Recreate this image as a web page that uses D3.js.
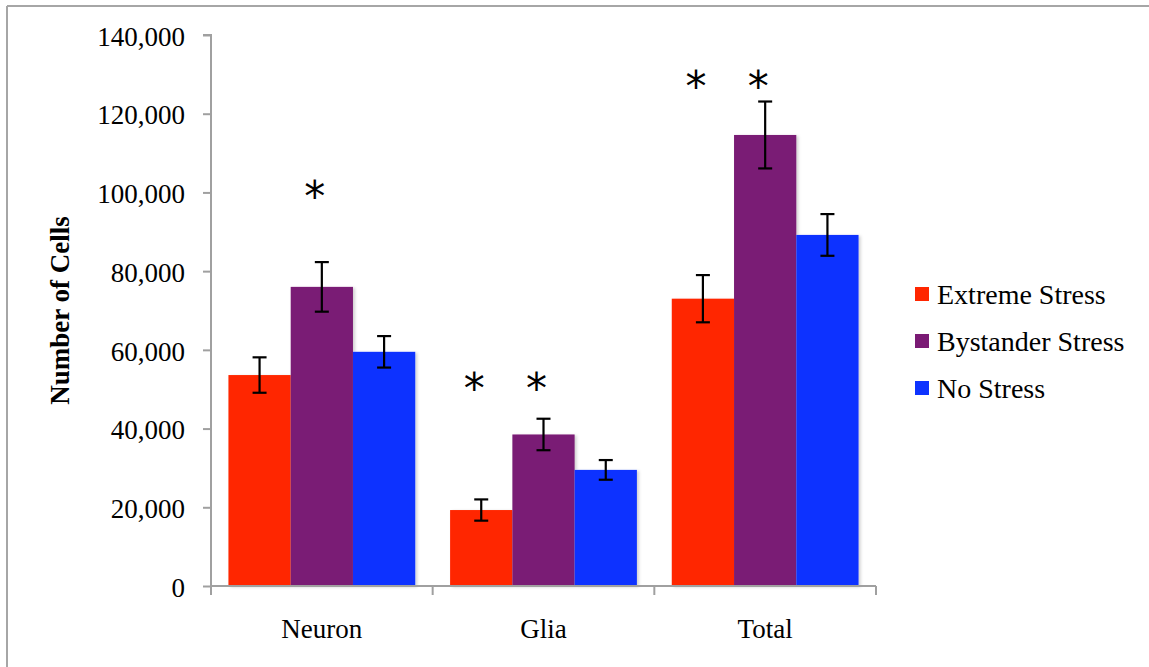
<!DOCTYPE html>
<html>
<head>
<meta charset="utf-8">
<script src="https://cdn.jsdelivr.net/npm/d3@7"></script>
<style>
  html, body { margin: 0; padding: 0; background: #fff; }
  svg { display: block; }
  text { font-family: "Liberation Serif", "DejaVu Serif", serif; fill: #000; }
</style>
</head>
<body>
<svg id="chart" width="1149" height="667"></svg>
<script>
// ---- data ----
const categories = ["Neuron", "Glia", "Total"];
const seriesNames = ["Extreme Stress", "Bystander Stress", "No Stress"];
const seriesColors = ["#FF2600", "#7A1A74", "#0D33FF"];
const extremeValues = [53600, 19300, 73000];
const extremeErrors = [4500, 2700, 6000];
const bystanderValues = [76000, 38500, 114600];
const bystanderErrors = [6300, 4000, 8500];
const noStressValues = [59500, 29500, 89200];
const noStressErrors = [4000, 2500, 5300];
const yTicks = [0, 20000, 40000, 60000, 80000, 100000, 120000, 140000];
// significance markers: [category, series index, y value where the star sits]
const stars = [
  ["Neuron", 1, 100500],
  ["Glia", 0, 51800],
  ["Glia", 1, 51800],
  ["Total", 0, 128600],
  ["Total", 1, 128600]
];

const seriesValues = [extremeValues, bystanderValues, noStressValues];
const seriesErrors = [extremeErrors, bystanderErrors, noStressErrors];

const svg = d3.select("#chart");
const plot = { left: 211, right: 876, top: 35, bottom: 586 };

// frame (top and left edges only visible)
svg.append("line").attr("x1", 7).attr("x2", 1149).attr("y1", 6).attr("y2", 6)
  .attr("stroke", "#a6a6a6").attr("stroke-width", 2);
svg.append("line").attr("x1", 7).attr("x2", 7).attr("y1", 6).attr("y2", 667)
  .attr("stroke", "#a6a6a6").attr("stroke-width", 2);

const y = d3.scaleLinear().domain([0, 140000]).range([plot.bottom, plot.top]);
const x0 = d3.scaleBand().domain(categories).range([plot.left, plot.right]).paddingInner(0).paddingOuter(0);
const x1 = d3.scaleBand().domain(d3.range(seriesNames.length))
  .range([0, x0.bandwidth()]).paddingOuter(0.28).paddingInner(0);

// drop shadow
const defs = svg.append("defs");
const f = defs.append("filter").attr("id", "shadow").attr("x", "-10%").attr("y", "-10%").attr("width", "130%").attr("height", "130%");
f.append("feDropShadow").attr("dx", 2).attr("dy", 1).attr("stdDeviation", 1.5)
  .attr("flood-color", "#000").attr("flood-opacity", 0.18);

// bars
const barData = [];
categories.forEach((c, ci) => {
  seriesNames.forEach((s, si) => {
    barData.push({ c, si, v: seriesValues[si][ci], e: seriesErrors[si][ci] });
  });
});

const bars = svg.append("g").attr("filter", "url(#shadow)");
bars.selectAll("rect").data(barData).join("rect")
  .attr("x", d => x0(d.c) + x1(d.si))
  .attr("width", x1.bandwidth())
  .attr("y", d => y(d.v))
  .attr("height", d => y(0) - y(d.v))
  .attr("fill", d => seriesColors[d.si]);

// y axis
const yAxis = d3.axisLeft(y).tickValues(yTicks).tickSize(8).tickPadding(18)
  .tickFormat(d3.format(","));
const gy = svg.append("g").attr("transform", `translate(${plot.left},0)`).call(yAxis);
gy.select(".domain").attr("stroke", "#a0a0a0").attr("stroke-width", 2).attr("d", `M-8,${plot.top}H0V${plot.bottom}`);
gy.selectAll(".tick line").attr("stroke", "#a0a0a0").attr("stroke-width", 2);
gy.selectAll(".tick text").attr("font-size", 27).attr("dy", "0.38em")
  .style("font-family", '"Liberation Serif", serif');

// x axis
const xAxis = d3.axisBottom(x0).tickSize(0).tickPadding(0);
const gx = svg.append("g").attr("transform", `translate(0,${plot.bottom})`).call(xAxis);
gx.select(".domain").attr("stroke", "#a0a0a0").attr("stroke-width", 2).attr("d", `M${plot.left},0H${plot.right}`);
gx.selectAll(".tick text").attr("font-size", 27).attr("y", 52).attr("dy", 0)
  .style("font-family", '"Liberation Serif", serif');
// boundary ticks between categories
const bounds = categories.map(c => x0(c)).concat([x0(categories[categories.length - 1]) + x0.bandwidth()]);
gx.selectAll(".bound").data(bounds).join("line").attr("class", "bound")
  .attr("x1", d => d).attr("x2", d => d).attr("y1", 0).attr("y2", 9)
  .attr("stroke", "#a0a0a0").attr("stroke-width", 2);

// error bars
const eb = svg.append("g").attr("stroke", "#000").attr("stroke-width", 2.2);
barData.forEach(d => {
  const cx = x0(d.c) + x1(d.si) + x1.bandwidth() / 2;
  const yt = y(d.v + d.e), yb = y(d.v - d.e);
  eb.append("line").attr("x1", cx).attr("x2", cx).attr("y1", yt).attr("y2", yb);
  eb.append("line").attr("x1", cx - 7).attr("x2", cx + 7).attr("y1", yt).attr("y2", yt);
  eb.append("line").attr("x1", cx - 7).attr("x2", cx + 7).attr("y1", yb).attr("y2", yb);
});

// stars
svg.append("g").selectAll("text").data(stars).join("text")
  .attr("x", d => x0(d[0]) + x1(d[1]) + x1.bandwidth() / 2 - 7)
  .attr("y", d => y(d[2]) + 21)
  .attr("text-anchor", "middle")
  .attr("font-size", 42)
  .style("font-family", '"DejaVu Sans", sans-serif')
  .text("*");

// y title
svg.append("text")
  .attr("transform", `translate(69,${(plot.top + plot.bottom) / 2}) rotate(-90)`)
  .attr("text-anchor", "middle")
  .attr("font-size", 27)
  .attr("font-weight", "bold")
  .text("Number of Cells");

// legend
const lg = svg.append("g").attr("transform", "translate(915,294)");
const li = lg.selectAll("g").data(seriesNames).join("g")
  .attr("transform", (d, i) => `translate(0,${i * 47})`);
li.append("rect").attr("x", 0).attr("y", -7).attr("width", 14).attr("height", 14)
  .attr("fill", (d, i) => seriesColors[i]);
li.append("text").attr("x", 22).attr("y", 0).attr("dy", "0.35em")
  .attr("font-size", 28).text(d => d);
</script>
</body>
</html>
